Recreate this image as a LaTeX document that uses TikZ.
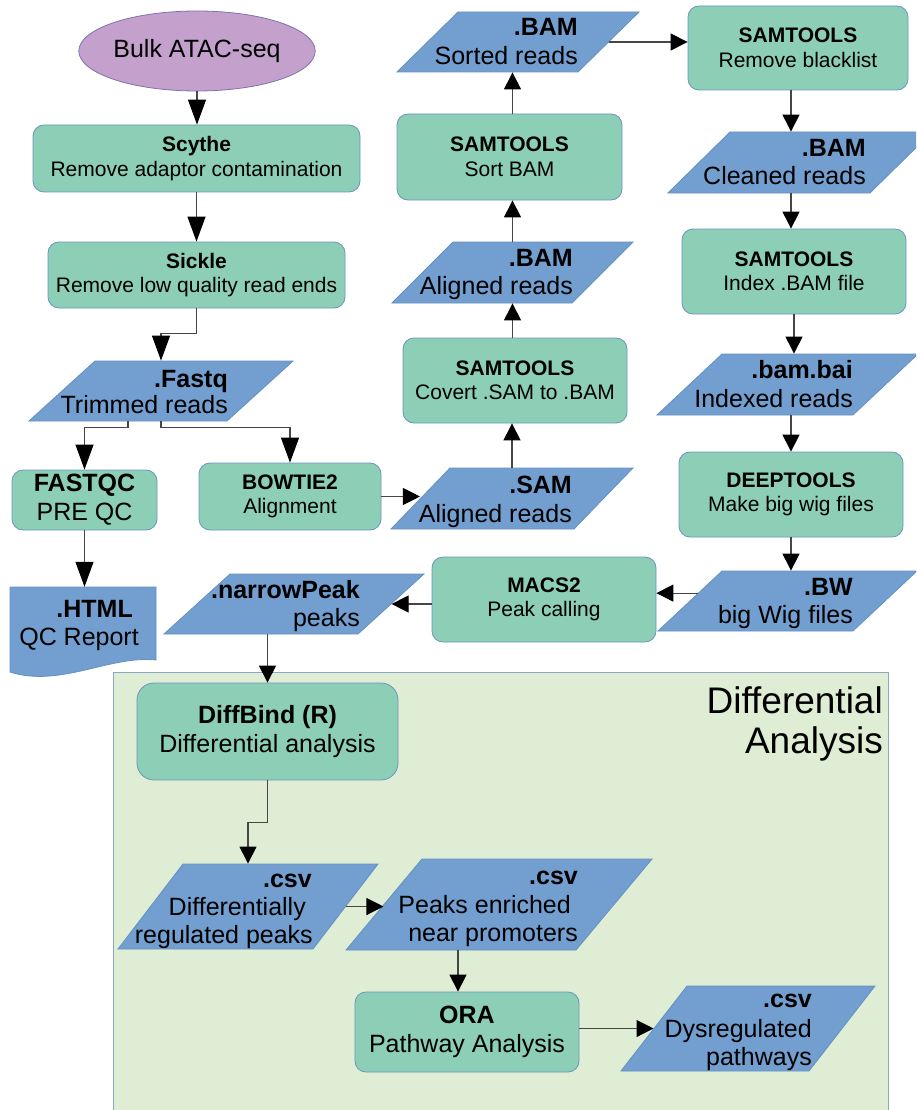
\documentclass[tikz,border=0pt]{standalone}
\usepackage{fontspec}
\setmainfont{Liberation Sans}
\usetikzlibrary{shapes.geometric,arrows.meta,calc}
\definecolor{procfill}{RGB}{140,207,182}
\definecolor{procdraw}{RGB}{108,148,192}
\definecolor{datafill}{RGB}{114,159,207}
\definecolor{datadraw}{RGB}{100,145,196}
\definecolor{ellfill}{RGB}{196,160,204}
\definecolor{elldraw}{RGB}{125,115,175}
\definecolor{regfill}{RGB}{223,237,212}
\definecolor{regdraw}{RGB}{140,165,200}
\definecolor{linec}{RGB}{70,70,70}
\tikzset{
  proc/.style={rectangle, rounded corners=11pt, fill=procfill, draw=procdraw, line width=0.8pt,
    align=center, inner sep=0pt, text=black, font=\fontsize{21}{24.5}\selectfont},
  procL/.style={proc, font=\fontsize{25}{29}\selectfont},
  dpara/.style n args={4}{shape=trapezium, trapezium left angle=#1, trapezium right angle=#2,
    inner xsep=#3, inner ysep=#4, minimum width=0pt, minimum height=0pt,
    fill=datafill, draw=datadraw, line width=0.8pt},
  dtext/.style={inner sep=0pt, text=black, font=\fontsize{25}{29}\selectfont},
  arr/.style={draw=linec, line width=1.1pt, -{Triangle[length=17pt,width=17pt,color=black]}},
  arrL/.style={draw=linec, line width=1.1pt, -{Triangle[length=25pt,width=18pt,color=black]}}
}
\begin{document}
\begin{tikzpicture}[x=1pt,y=-1pt]
\useasboundingbox (0,0) rectangle (916,1110);
\clip (0,0) rectangle (916,1110);
\fill[white] (0,0) rectangle (916,1110);

% region
\filldraw[fill=regfill, draw=regdraw, line width=0.8pt] (113,672) rectangle (888,1120);
\node[anchor=base east, inner sep=0pt, font=\fontsize{37}{40}\selectfont] (title1) at (883,713) {Differential};
\node[anchor=base east, inner sep=0pt, font=\fontsize{37}{40}\selectfont] (title2) at (883,753) {Analysis};

% start
\node[ellipse, fill=ellfill, draw=elldraw, line width=0.8pt, minimum width=206pt, minimum height=80pt,
  inner sep=0pt, font=\fontsize{25}{29}\selectfont] (start) at (197,51) {Bulk ATAC-seq};

% process boxes
\node[proc, minimum width=327pt, minimum height=67pt] (scythe) at (196.5,158.5) {\textbf{Scythe}\\Remove adaptor contamination};
\node[proc, minimum width=297pt, minimum height=66pt] (sickle) at (196.5,275) {\textbf{Sickle}\\Remove low quality read ends};
\node[procL, minimum width=145pt, minimum height=60pt] (fastqc) at (84.5,500) {\textbf{FASTQC}\\PRE QC};
\node[proc, minimum width=182pt, minimum height=67pt] (bowtie) at (290,496.5) {\textbf{BOWTIE2}\\Alignment};
\node[proc, minimum width=224pt, minimum height=85pt] (covert) at (515,380.5) {\textbf{SAMTOOLS}\\Covert .SAM to .BAM};
\node[proc, minimum width=225pt, minimum height=86pt] (sortbam) at (509.5,157) {\textbf{SAMTOOLS}\\Sort BAM};
\node[proc, minimum width=220pt, minimum height=84pt] (rb) at (798,48) {\textbf{SAMTOOLS}\\Remove blacklist};
\node[proc, minimum width=224pt, minimum height=85pt] (index) at (794,271.5) {\textbf{SAMTOOLS}\\Index .BAM file};
\node[proc, minimum width=224pt, minimum height=85pt] (deeptools) at (791,494.5) {\textbf{DEEPTOOLS}\\Make big wig files};
\node[proc, minimum width=224pt, minimum height=85pt] (macs) at (544,599.5) {\textbf{MACS2}\\Peak calling};
\node[procL, rounded corners=17pt, minimum width=261pt, minimum height=97pt] (diffbind) at (267.5,731.5) {\textbf{DiffBind (R)}\\Differential analysis};
\node[procL, minimum width=224pt, minimum height=80pt] (ora) at (467,1032) {\textbf{ORA}\\Pathway Analysis};

% data parallelograms
\node[dpara={42.27}{137.73}{66pt}{30pt}] (fastq) at (161,391) {};
\node[dpara={44.52}{135.48}{60pt}{30pt}] (sorted) at (518,42) {};
\node[dpara={45}{135}{59.5pt}{30.5pt}] (alb) at (512.5,272.5) {};
\node[dpara={45.96}{134.04}{62pt}{30.5pt}] (sam) at (512,498.5) {};
\node[dpara={44.53}{135.47}{70pt}{30.5pt}] (cleaned) at (800,162.5) {};
\node[dpara={43.18}{136.82}{65.5pt}{30.5pt}] (bambai) at (787.5,384.5) {};
\node[dpara={43.15}{136.85}{65.5pt}{30pt}] (bw) at (787.5,601) {};
\node[dpara={42.27}{137.73}{64pt}{30pt}] (np) at (294,604) {};
\node[dpara={52.59}{127.41}{65pt}{42.5pt}] (csv1) at (248,906.5) {};
\node[dpara={50.13}{129.87}{77pt}{45.5pt}] (csv2) at (499,904.5) {};
\node[dpara={52.17}{127.83}{61pt}{42.5pt}] (csv3) at (748,1028.5) {};

% document shape
\node[inner sep=0pt, minimum width=146pt, minimum height=86pt] (html) at (83,630) {};
\filldraw[fill=datafill, draw=datadraw, line width=0.8pt] (10,587) -- (156,587) -- (156,660)
  .. controls (110,655) and (60,688) .. (10,672) -- cycle;

% data texts
\node[dtext, anchor=base east] (fastqa) at (228,387) {\bfseries .Fastq};
\node[dtext, anchor=base east] (fastqb) at (228,413) {Trimmed reads};
\node[dtext, anchor=base east] (sorteda) at (578,36) {\bfseries .BAM};
\node[dtext, anchor=base east] (sortedb) at (578,65) {Sorted reads};
\node[dtext, anchor=base east] (alba) at (573,266) {\bfseries .BAM};
\node[dtext, anchor=base east] (albb) at (573,294) {Aligned reads};
\node[dtext, anchor=base east] (sama) at (572,493) {\bfseries .SAM};
\node[dtext, anchor=base east] (samb) at (572,522) {Aligned reads};
\node[dtext, anchor=base east] (cleaneda) at (866,157) {\bfseries .BAM};
\node[dtext, anchor=base east] (cleanedb) at (866,185) {Cleaned reads};
\node[dtext, anchor=base east] (bambaia) at (853,378) {\bfseries .bam.bai};
\node[dtext, anchor=base east] (bambaib) at (853,407) {Indexed reads};
\node[dtext, anchor=base east] (bwa) at (853,595) {\bfseries .BW};
\node[dtext, anchor=base east] (bwb) at (853,623) {big Wig files};
\node[dtext, anchor=base east] (npa) at (360,598) {\bfseries .narrowPeak};
\node[dtext, anchor=base east] (npb) at (360,626) {peaks};
\node[dtext, anchor=base east] (htmla) at (133,617) {\bfseries .HTML};
\node[dtext, anchor=base east] (htmlb) at (139,645) {QC Report};
\node[dtext, anchor=base east] (csv1a) at (312,887) {\bfseries .csv};
\node[dtext, anchor=base east] (csv1b) at (306,915) {Differentially};
\node[dtext, anchor=base east] (csv1c) at (313,943) {regulated peaks};
\node[dtext, anchor=base east] (csv2a) at (578,884) {\bfseries .csv};
\node[dtext, anchor=base east] (csv2b) at (571,913) {Peaks enriched};
\node[dtext, anchor=base east] (csv2c) at (578,941) {near promoters};
\node[dtext, anchor=base east] (csv3a) at (812,1007) {\bfseries .csv};
\node[dtext, anchor=base east] (csv3b) at (812,1037) {Dysregulated};
\node[dtext, anchor=base east] (csv3c) at (812,1065) {pathways};

% connectors
\draw[arrL] (start.south) -- (start.south |- scythe.north);
\draw[arrL] (scythe.south) -- (scythe.south |- sickle.north);
\draw[arrL] (sickle.south) -- ++(0,25) -| (fastq.north);
\draw[arrL] ([xshift=-33pt]fastq.south) -- ++(0,6) -| (fastqc.north);
\draw[arrL] (fastq.south) -- ++(0,6) -| (bowtie.north);
\draw[arrL] (fastqc.south) -- (fastqc.south |- html.north);
\draw[arr] (bowtie.east) -- (bowtie.east -| sam.left side);
\draw[arr] (sam.north) -- (sam.north |- covert.south);
\draw[arr] (alb.south |- covert.north) -- (alb.south);
\draw[arr] (alb.north) -- (alb.north |- sortbam.south);
\draw[arr] (alb.north |- sortbam.north) -- (alb.north |- sorted.south);
\draw[arr] (sorted.right side) -- (sorted.right side -| rb.west);
\draw[arr] ([xshift=-7pt]rb.south) -- ([xshift=-7pt]rb.south |- cleaned.north);
\draw[arr] ([xshift=-3pt]index.north |- cleaned.south) -- ([xshift=-3pt]index.north);
\draw[arr] (index.south) -- (index.south |- bambai.north);
\draw[arr] (deeptools.north |- bambai.south) -- (deeptools.north);
\draw[arr] (deeptools.south) -- (deeptools.south |- bw.north);
\draw[arr] ($(bw.bottom left corner)!0.63!(bw.top left corner)$) coordinate (bwout) -- (bwout -| macs.east);
\draw[arr] (macs.west |- np.right side) -- (np.right side);
\draw[arr] (diffbind.north |- np.south) -- (diffbind.north);
\draw[arr] (diffbind.south) -- ++(0,42) -| (csv1.north);
\draw[arr] (csv1.right side) -- (csv1.right side -| csv2.left side);
\draw[arr] ([xshift=-9pt]ora.north |- csv2.south) -- ([xshift=-9pt]ora.north);
\draw[arr] (ora.east |- csv3.left side) -- (csv3.left side);
\end{tikzpicture}
\end{document}
